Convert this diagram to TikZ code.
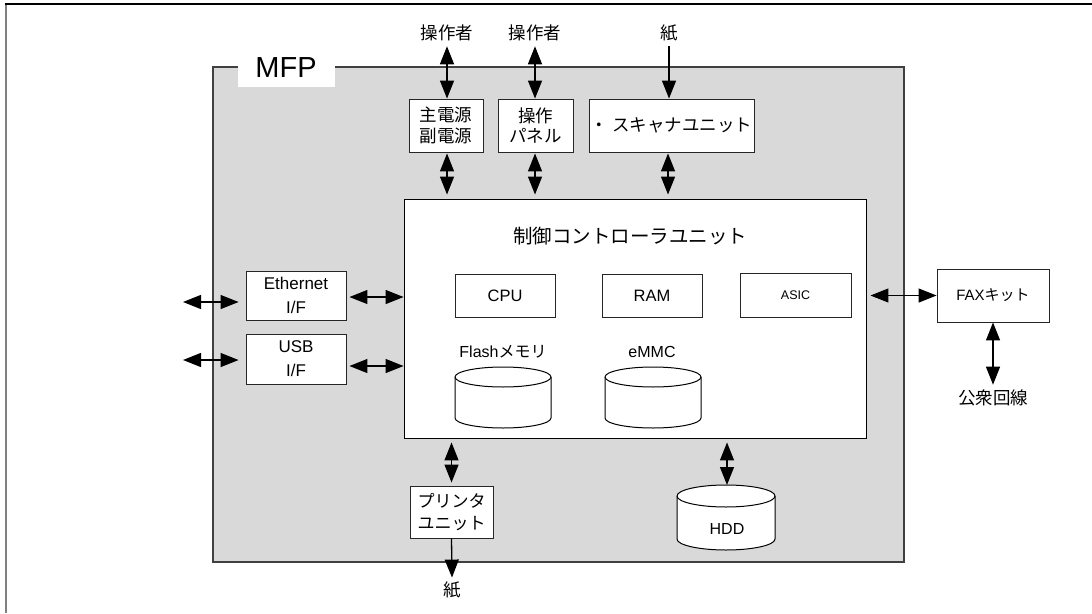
\documentclass[tikz,border=0pt]{standalone}
\usepackage{fontspec}
\setmainfont{Liberation Sans}
\newfontfamily\jp{Noto Sans CJK JP}
\usetikzlibrary{arrows.meta}
\definecolor{mfpgray}{HTML}{D9D9D9}
\definecolor{edge}{HTML}{404040}
\newcommand{\mycyl}[5]{% cx, top-center y, bottom-center y, rx, ry
  \filldraw[cylline] (#1-#4,#2) -- (#1-#4,#3)
    arc[start angle=180,end angle=360,x radius=#4pt,y radius=#5pt]
    -- (#1+#4,#2)
    arc[start angle=0,end angle=180,x radius=#4pt,y radius=#5pt] -- cycle;
  \draw[cylline] (#1-#4,#2) arc[start angle=180,end angle=360,x radius=#4pt,y radius=#5pt];
}
\begin{document}
\begin{tikzpicture}[x=1pt,y=-1pt,
  box/.style={draw=black!85, fill=white, line width=0.9pt, align=center, inner sep=0pt},
  jtext/.style={font=\jp\fontsize{17.5}{20.5}\selectfont},
  ltext/.style={font=\fontsize{17}{24}\selectfont},
  cylline/.style={draw=black, fill=white, line width=1pt},
  tip/.tip={Triangle[length=18pt,width=14pt]},
  bi/.style={line width=1.3pt, tip-tip},
  uni/.style={line width=1.3pt, -tip},
  lbl/.style={inner sep=0pt}
]
\useasboundingbox (0,0) rectangle (1092,613);
% outer frame (top and left)
\draw[line width=1.6pt, gray] (6,613) -- (6,4);
\draw[line width=1.4pt, black] (5.2,4) -- (1092,4);

% MFP gray area
\draw[fill=mfpgray, draw=edge, line width=1.4pt] (213,67) rectangle (904,562);
\fill[white] (238,50) rectangle (335,87);
\node[lbl, font=\fontsize{29}{32}\selectfont] (mfp) at (286,68) {MFP};

% controller
\node[box, draw=black, minimum width=462pt, minimum height=239pt] (ctrl) at (635,318.5) {};
\node[lbl, font=\jp\fontsize{19.5}{22}\selectfont] (ctitle) at (630,236) {制御コントローラユニット};
\node[box, minimum width=100pt, minimum height=43pt, font=\fontsize{16.5}{19}\selectfont] (cpu) at (505,295.5) {CPU};
\node[box, minimum width=100pt, minimum height=43pt, font=\fontsize{16.5}{19}\selectfont] (ram) at (652,295.5) {RAM};
\node[box, minimum width=111pt, minimum height=44pt, font=\fontsize{12.5}{14}\selectfont] (asic) at (795.5,295) {ASIC};

\node[lbl, font=\fontsize{16}{18}\selectfont] (flashlbl) at (503,352) {Flash{\jp メモリ}};
\node[lbl, font=\fontsize{16}{18}\selectfont] (emmclbl) at (652,352) {eMMC};
\mycyl{503}{377}{418}{48}{10}
\mycyl{653}{377}{418}{48}{10}

% top units
\node[box, jtext, minimum width=74pt, minimum height=53pt] (pwr) at (446,125.5) {主電源\\副電源};
\node[box, jtext, minimum width=75pt, minimum height=53pt] (pnl) at (535.5,125.5) {操作\\パネル};
\node[box, jtext, minimum width=165pt, minimum height=53pt] (scn) at (671.5,125.5) {・ スキャナユニット};

\node[jtext, inner sep=5pt] (op1) at (447,33) {操作者};
\node[jtext, inner sep=5pt] (op2) at (535,33) {操作者};
\node[jtext, inner sep=5pt] (paper1) at (669,33) {紙};

\draw[bi] (op1.south) -- (op1.south |- pwr.north);
\draw[bi] (op2.south) -- (op2.south |- pnl.north);
\draw[uni] (paper1.south) -- (paper1.south |- scn.north);
\draw[bi, shorten <=1pt, shorten >=4pt] (op1.south |- pwr.south) -- (op1.south |- ctrl.north);
\draw[bi, shorten <=1pt, shorten >=4pt] (op2.south |- pnl.south) -- (op2.south |- ctrl.north);
\draw[bi, shorten <=1pt, shorten >=4pt] ([xshift=-3.5pt]scn.south) -- ([xshift=-3.5pt]scn.south |- ctrl.north);

% interfaces
\node[box, ltext, minimum width=100pt, minimum height=49pt] (eth) at (296,295.5) {Ethernet\\I/F};
\node[box, ltext, minimum width=100pt, minimum height=50pt] (usb) at (296,359) {USB\\I/F};
\coordinate (ethL) at (183,302);
\coordinate (usbL) at (183,360);
\draw[bi, shorten >=7pt] (ethL) -- (ethL -| eth.west);
\draw[bi, shorten >=7pt] (usbL) -- (usbL -| usb.west);
\draw[bi, shorten <=3pt] ([yshift=-1.5pt]eth.east) -- ([yshift=-1.5pt]eth.east -| ctrl.west);
\draw[bi, shorten <=3pt] ([yshift=-7pt]usb.east) -- ([yshift=-7pt]usb.east -| ctrl.west);

% FAX
\node[box, minimum width=112pt, minimum height=53pt, font=\fontsize{15}{18}\selectfont] (fax) at (993,295.5) {FAX{\jp キット}};
\node[jtext, inner sep=5pt] (pub) at (993,398) {公衆回線};
\draw[bi, shorten <=4pt] (ctrl.east |- fax.west) -- (fax.west);
\draw[bi] (fax.south) -- (pub.north);

% printer
\node[box, jtext, minimum width=83pt, minimum height=52pt, font=\jp\fontsize{17}{22}\selectfont] (prn) at (451.5,512) {プリンタ\\ユニット};
\node[jtext, inner sep=4pt] (paper2) at (452,590) {紙};
\draw[bi, shorten <=4pt, shorten >=3pt] (prn.north |- ctrl.south) -- (prn.north);
\draw[uni] (prn.south) -- (paper2.north);

% HDD
\mycyl{726}{496}{539}{49}{11}
\node[lbl, font=\fontsize{16}{18}\selectfont] (hdd) at (727,529) {HDD};
\coordinate (hddtop) at (727,485);
\draw[bi, shorten <=4pt] (hddtop |- ctrl.south) -- (hddtop);
\end{tikzpicture}
\end{document}
